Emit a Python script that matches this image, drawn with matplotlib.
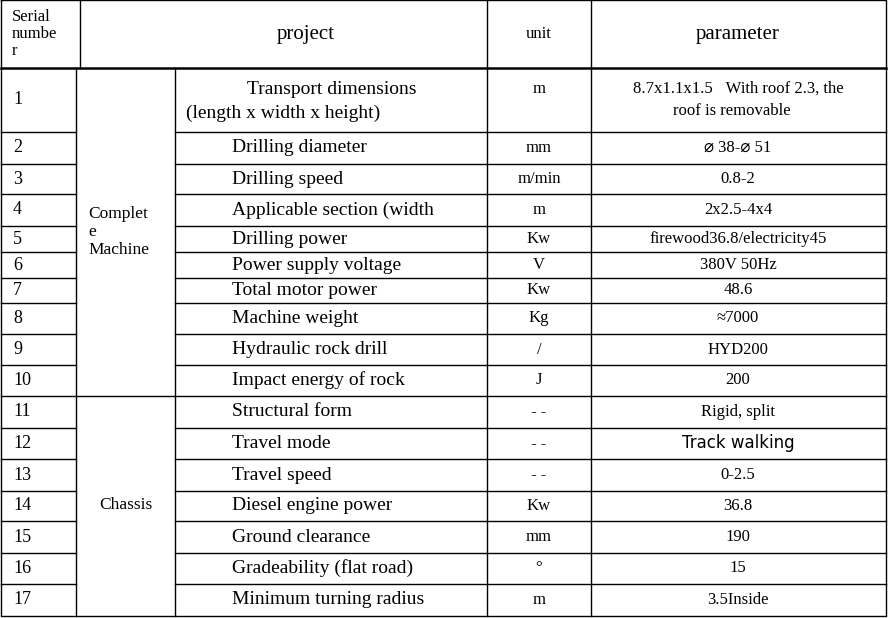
import matplotlib.pyplot as plt

serials = [str(i) for i in range(1, 18)]
projects = ["Transport dimensions\n(length x width x height)", "Drilling diameter", "Drilling speed",
            "Applicable section (width", "Drilling power", "Power supply voltage", "Total motor power",
            "Machine weight", "Hydraulic rock drill", "Impact energy of rock", "Structural form",
            "Travel mode", "Travel speed", "Diesel engine power", "Ground clearance",
            "Gradeability (flat road)", "Minimum turning radius"]
units = ["m", "mm", "m/min", "m", "Kw", "V", "Kw", "Kg", "/", "J", "--", "--", "--", "Kw", "mm", "°", "m"]
params = ["8.7x1.1x1.5（With roof 2.3, the\nroof is removable）", "⌀ 38-⌀ 51", "0.8-2", "2x2.5-4x4",
          "firewood36.8/electricity45", "380V 50Hz", "48.6", "≈7000", "HYD200", "200",
          "Rigid, split", "Track walking", "0-2.5", "36.8", "190", "15", "3.5Inside"]
groups = [("Complet\ne\nMachine", 0, 10), ("Chassis", 10, 17)]
headers = ["Serial\nnumbe\nr", "project", "unit", "parameter"]

row_edges = [68, 132, 164, 194, 226, 252, 278, 303, 334, 365, 396, 428, 459, 491, 521, 553, 584, 616]

plt.rcParams["font.family"] = ["Liberation Serif", "Noto Sans CJK SC", "DejaVu Sans"]
fig = plt.figure(figsize=(8.89, 6.18), dpi=100)
ax = fig.add_axes([0, 0, 1, 1])
ax.set_xlim(0, 889)
ax.set_ylim(618, 0)
ax.axis("off")

lw = 1.0
# outer frame and header
ax.plot([1, 886, 886, 1, 1], [0, 0, 616, 616, 0], color="black", lw=lw)
ax.plot([1, 886], [68, 68], color="black", lw=1.8)
for x in [80, 487, 591]:
    ax.plot([x, x], [0, 68], color="black", lw=lw)
for x in [76, 175, 487, 591]:
    ax.plot([x, x], [68, 616], color="black", lw=lw)
for y in row_edges[1:-1]:
    ax.plot([1, 76], [y, y], color="black", lw=lw)
    ax.plot([175, 886], [y, y], color="black", lw=lw)
ax.plot([76, 175], [396, 396], color="black", lw=lw)

ax.text(12, 34, headers[0], fontsize=12, va="center", ha="left", linespacing=1.05)
ax.text(306, 34, headers[1], fontsize=15, va="center", ha="center")
ax.text(539, 34, headers[2], fontsize=12, va="center", ha="center")
ax.text(738, 34, headers[3], fontsize=15, va="center", ha="center")

for i in range(17):
    yc = (row_edges[i] + row_edges[i + 1]) / 2
    ax.text(13, yc, serials[i], fontsize=13, va="center", ha="left")
    if i == 0:
        ax.text(332, yc - 11, "Transport dimensions", fontsize=14, va="center", ha="center")
        ax.text(186, yc + 13, "(length x width x height)", fontsize=14, va="center", ha="left")
        ax.text(539, yc - 11, units[i], fontsize=12, va="center", ha="center")
        ax.text(738, yc, params[i], fontsize=12, va="center", ha="center", linespacing=1.5)
        continue
    ax.text(232, yc, projects[i], fontsize=14, va="center", ha="left")
    u = "- -" if units[i] == "--" else units[i]
    ax.text(539, yc, u, fontsize=12, va="center", ha="center")
    if params[i] == "Track walking":
        ax.text(738, yc, params[i], fontsize=12, va="center", ha="center", fontfamily="DejaVu Sans")
    else:
        ax.text(738, yc, params[i], fontsize=12, va="center", ha="center")

for name, a, b in groups:
    if a == 0:
        ax.text(88, 232, name, fontsize=12.5, va="center", ha="left", linespacing=1.2)
    else:
        ax.text(126, 505, name, fontsize=12.5, va="center", ha="center")

fig.savefig("out.png", dpi=100)
